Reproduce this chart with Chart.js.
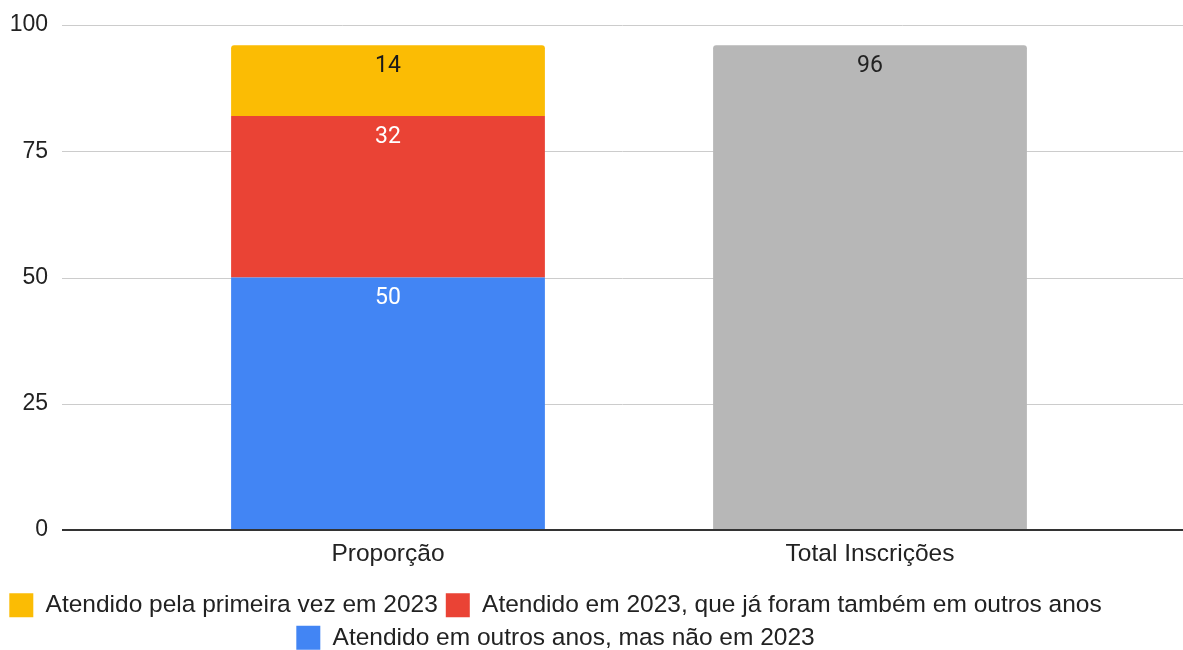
<!DOCTYPE html>
<html>
<head>
<meta charset="utf-8">
<script src="https://cdn.jsdelivr.net/npm/chart.js@4"></script>
<style>
  html, body { margin: 0; padding: 0; background: #fff; }
  #wrap { width: 1183px; height: 650px; }
</style>
</head>
<body>
<div id="wrap"><canvas id="chart" width="1183" height="650"></canvas></div>
<script>
// categories and series
const categories = ['Proporção', 'Total Inscrições'];
const firstTime = [14, null];      // Atendido pela primeira vez em 2023
const alsoBefore = [32, null];     // Atendido em 2023, que já foram também em outros anos
const notThisYear = [50, null];    // Atendido em outros anos, mas não em 2023
const totalInscr = [null, 96];     // Total Inscrições
const yTicks = [0, 25, 50, 75, 100];

const TEXT = '#222222';
const FONT = '"Liberation Sans", Arial, sans-serif';

// horizontal gridlines that run across the full width (as in the original)
const gridPlugin = {
  id: 'wideGrid',
  beforeDatasetsDraw(chart) {
    const { ctx, scales: { y } } = chart;
    ctx.save();
    ctx.strokeStyle = '#cccccc';
    ctx.lineWidth = 1;
    yTicks.forEach(v => {
      if (v === 0) return;
      const py = Math.round(y.getPixelForValue(v)) + 0.5;
      ctx.beginPath();
      ctx.moveTo(62, py);
      ctx.lineTo(chart.width, py);
      ctx.stroke();
    });
    ctx.restore();
  },
  afterDatasetsDraw(chart) {
    const { ctx, scales: { y } } = chart;
    const py = Math.round(y.getPixelForValue(0));
    ctx.save();
    ctx.strokeStyle = '#333333';
    ctx.lineWidth = 2;
    ctx.beginPath();
    ctx.moveTo(62, py);
    ctx.lineTo(chart.width, py);
    ctx.stroke();
    ctx.restore();
  }
};

// value labels inside the top of each segment
const valuePlugin = {
  id: 'values',
  afterDatasetsDraw(chart) {
    const { ctx } = chart;
    ctx.save();
    ctx.font = '23px Roboto';
    ctx.textAlign = 'center';
    ctx.textBaseline = 'middle';
    chart.data.datasets.forEach((ds, i) => {
      const meta = chart.getDatasetMeta(i);
      meta.data.forEach((bar, j) => {
        const v = ds.data[j];
        if (v === null || v === undefined) return;
        ctx.fillStyle = ds.labelColor;
        ctx.fillText(String(v), bar.x, bar.y + 21);
      });
    });
    ctx.restore();
  }
};

const chart = new Chart(document.getElementById('chart'), {
  type: 'bar',
  data: {
    labels: categories,
    datasets: [
      { label: 'Atendido em outros anos, mas não em 2023', data: notThisYear,
        backgroundColor: '#4285F4', labelColor: '#ffffff' },
      { label: 'Atendido em 2023, que já foram também em outros anos', data: alsoBefore,
        backgroundColor: '#EA4335', labelColor: '#ffffff' },
      { label: 'Atendido pela primeira vez em 2023', data: firstTime,
        backgroundColor: '#FBBC04', labelColor: '#1a1a1a',
        borderRadius: { topLeft: 3, topRight: 3, bottomLeft: 0, bottomRight: 0 }, borderSkipped: false },
      { label: 'Total Inscrições', data: totalInscr,
        backgroundColor: '#B7B7B7', labelColor: TEXT,
        borderRadius: { topLeft: 3, topRight: 3, bottomLeft: 0, bottomRight: 0 }, borderSkipped: false }
    ]
  },
  options: {
    responsive: false,
    animation: false,
    devicePixelRatio: 1,
    categoryPercentage: 1,
    barPercentage: 0.651,
    layout: { padding: { top: 25, right: 72, left: 0, bottom: -10 } },
    plugins: {
      tooltip: { enabled: false },
      legend: {
        position: 'bottom',
        labels: {
          boxWidth: 24,
          boxHeight: 24,
          padding: 8,
          color: TEXT,
          font: { family: FONT, size: 24.5 },
          filter: item => item.datasetIndex !== 3,
          sort: (a, b) => b.datasetIndex - a.datasetIndex
        }
      }
    },
    scales: {
      x: {
        stacked: true,
        offset: true,
        afterFit(scale) { scale.height = 55; },
        grid: { display: false, drawTicks: false },
        border: { display: false },
        ticks: {
          color: TEXT,
          padding: 10,
          maxRotation: 0,
          minRotation: 0,
          autoSkip: false,
          font: { family: FONT, size: 24.5 }
        }
      },
      y: {
        stacked: true,
        min: 0,
        max: 100,
        afterBuildTicks(scale) { scale.ticks = yTicks.map(v => ({ value: v })); },
        afterFit(scale) {
          // keep the wide gap between labels and bars without eating vertical space
          scale.width = 147;
          scale.paddingTop = 12;
          scale.paddingBottom = 12;
        },
        grid: { display: false, drawTicks: false },
        border: { display: false },
        ticks: {
          color: TEXT,
          padding: 99,
          font: { family: FONT, size: 23 }
        }
      }
    }
  },
  plugins: [gridPlugin, valuePlugin]
});
</script>
</body>
</html>
